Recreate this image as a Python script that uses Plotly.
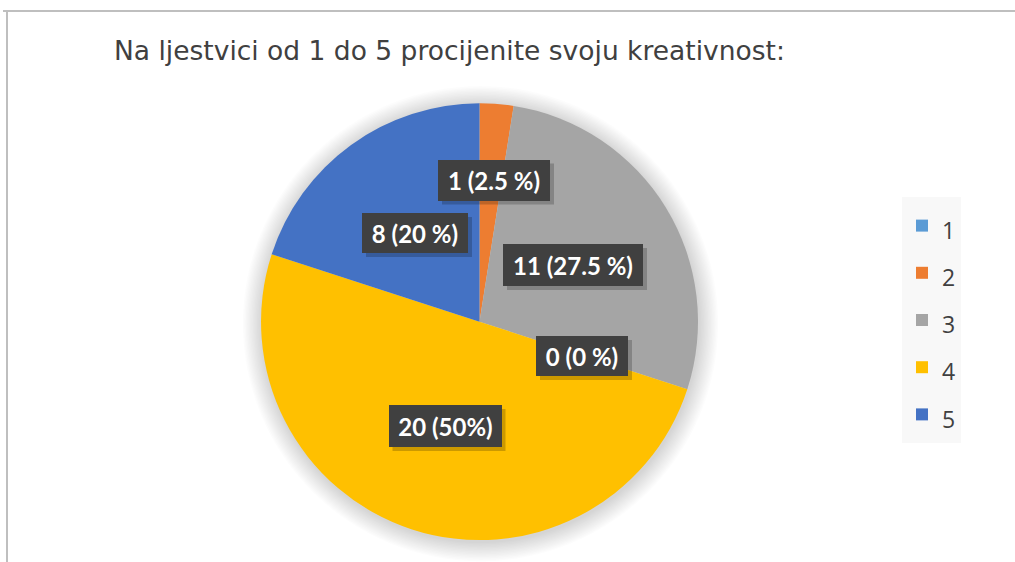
import plotly.graph_objects as go

W, H = 1015, 562

# ---- data ----
categories = ["1", "2", "3", "4", "5"]
counts = [0, 1, 11, 20, 8]
colors = ["#5B9BD5", "#ED7D31", "#A5A5A5", "#FFC000", "#4472C4"]
label_texts = ["0 (0 %)", "1 (2.5 %)", "11 (27.5 %)", "20 (50%)", "8 (20 %)"]
title_text = "Na ljestvici od 1 do 5 procijenite svoju kreativnost:"

# label box centres and sizes (pixels, as placed in the original chart)
label_pos = [(582, 356), (494, 180), (573, 265), (445, 426), (415, 233)]
label_box = [(92, 40), (112, 41), (140, 42), (113, 42), (106, 40)]

def px(x):
    return x / W

def py(y):
    return 1 - y / H

# pie placement (pixels)
cx, cy, r = 479.5, 321.7, 218.5

fig = go.Figure()
fig.add_trace(go.Pie(
    labels=[f'<span style="font-size:23px">{c}</span>' for c in categories],
    values=counts,
    sort=False,
    direction="clockwise",
    rotation=0,
    marker=dict(colors=colors, line=dict(width=0)),
    textinfo="none",
    hoverinfo="value+percent",
    domain=dict(x=[px(cx - r), px(cx + r)], y=[py(cy + r), py(cy - r)]),
    showlegend=True,
))

shapes = []
# soft shadow around pie
for i in range(14):
    d = 1 + i * 1.4
    shapes.append(dict(
        type="circle", xref="paper", yref="paper", layer="below",
        x0=px(cx - r - d + 1), x1=px(cx + r + d + 1),
        y0=py(cy + r + d + 2), y1=py(cy - r - d + 2),
        fillcolor="rgba(0,0,0,0.012)", line=dict(width=0),
    ))
# label box shadows
for (lx, ly), (bw, bh) in zip(label_pos, label_box):
    shapes.append(dict(
        type="rect", xref="paper", yref="paper", layer="above",
        x0=px(lx - bw / 2 + 4), x1=px(lx + bw / 2 + 4),
        y0=py(ly + bh / 2 + 4), y1=py(ly - bh / 2 + 4),
        fillcolor="rgba(0,0,0,0.2)", line=dict(width=0),
    ))
# chart border (left + top)
shapes.append(dict(type="line", xref="paper", yref="paper",
                   x0=px(7), x1=px(7), y0=py(11), y1=py(H + 5),
                   line=dict(color="#BFBFBF", width=2)))
shapes.append(dict(type="line", xref="paper", yref="paper",
                   x0=px(3), x1=px(W + 5), y0=py(11), y1=py(11),
                   line=dict(color="#BFBFBF", width=2)))

annotations = []
lab_font = dict(family="Lato, 'Open Sans', sans-serif", size=24, color="white")
for txt, (lx, ly), (bw, bh) in zip(label_texts, label_pos, label_box):
    annotations.append(dict(
        x=px(lx), y=py(ly), xref="paper", yref="paper",
        xanchor="center", yanchor="middle",
        text=f"<b>{txt}</b>", showarrow=False,
        font=lab_font, bgcolor="#404040",
        borderpad=0, borderwidth=0, width=bw, height=bh,
        align="center", valign="middle",
    ))

annotations.append(dict(
    x=px(112), y=py(50), xref="paper", yref="paper",
    xanchor="left", yanchor="middle", showarrow=False,
    text=title_text,
    font=dict(family="'DejaVu Sans', sans-serif", size=26.5, color="#404040"),
))

fig.update_layout(
    width=W, height=H,
    margin=dict(l=0, r=0, t=0, b=0),
    paper_bgcolor="white",
    plot_bgcolor="white",
    shapes=shapes,
    annotations=annotations,
    legend=dict(
        x=px(902), y=py(197), xanchor="left", yanchor="top",
        bgcolor="#F8F8F8",
        font=dict(family="'Open Sans', sans-serif", size=34, color="#404040"),
        itemwidth=30,
    ),
)

fig.write_html("out.html", config={"displayModeBar": False},
               post_script="document.body.style.margin='0';")
